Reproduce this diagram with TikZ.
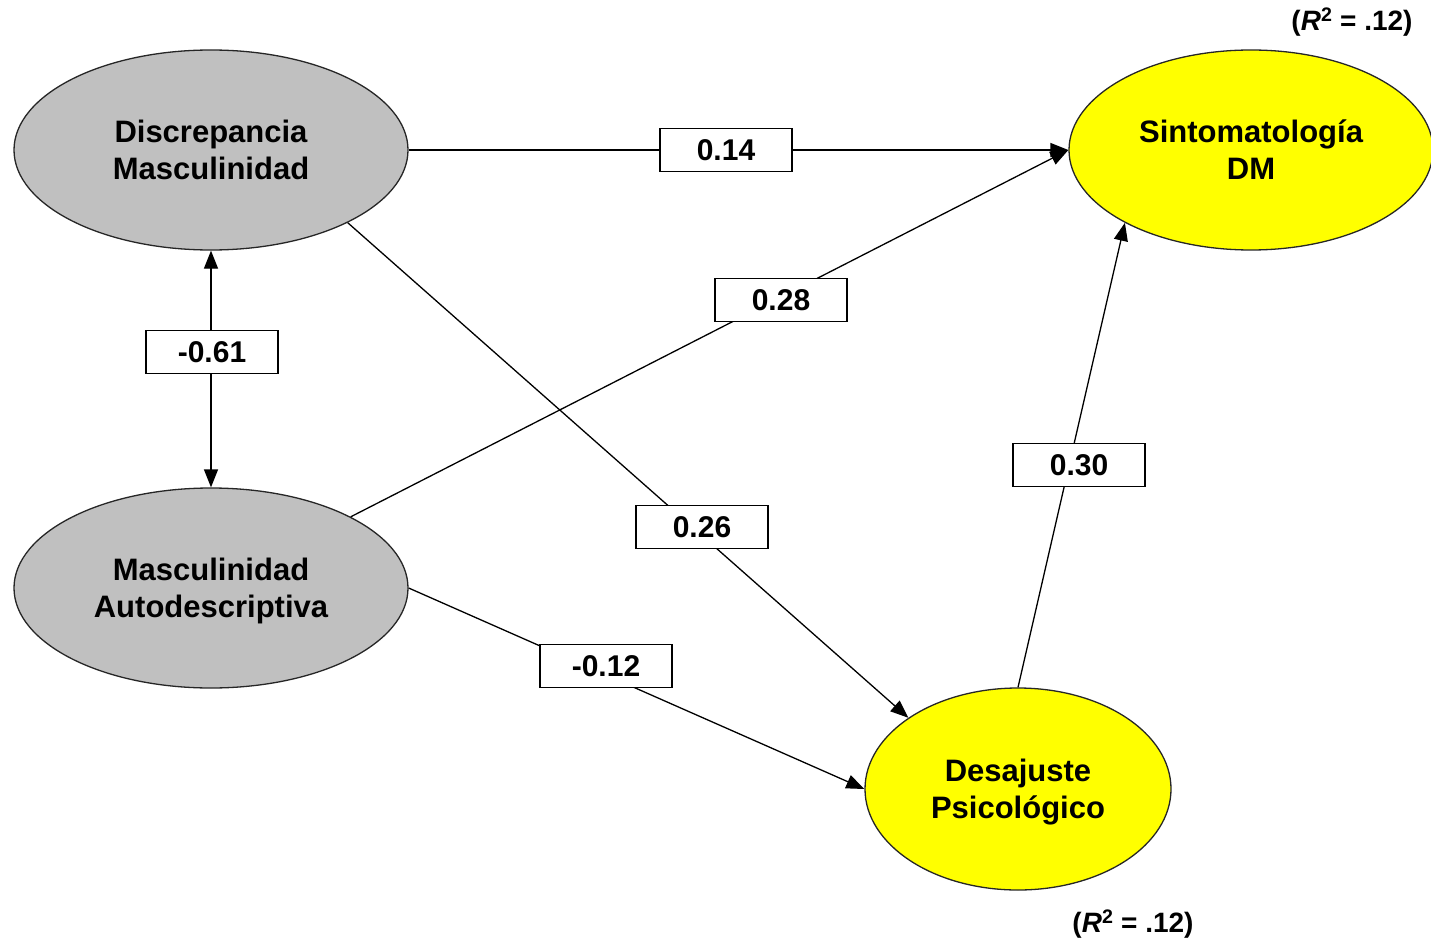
\documentclass[tikz,border=0pt]{standalone}
\usepackage{fontspec}
\setmainfont{Liberation Sans}
\usetikzlibrary{shapes.geometric,arrows.meta}
\definecolor{latgray}{RGB}{192,192,192}
\definecolor{latyellow}{RGB}{255,255,0}
\newcommand{\nodepth}[1]{\raisebox{0pt}[\height][0pt]{#1}}
\begin{document}
\begin{tikzpicture}[x=1pt,y=-1pt,
  lat/.style={ellipse, draw=black!85, line width=1.3pt, inner sep=0pt, align=center,
    font=\fontsize{31}{37}\selectfont\bfseries},
  exo/.style={lat, fill=latgray, minimum width=394pt, minimum height=200pt},
  endo/.style={lat, fill=latyellow},
  coef/.style={draw=black, fill=white, line width=1.3pt, minimum width=132pt,
    minimum height=43pt, inner sep=0pt, font=\fontsize{30}{36}\selectfont\bfseries},
  arr/.style={line width=1.3pt, -{Triangle[length=18pt,width=14pt]}},
  darr/.style={line width=1.3pt, {Triangle[length=18pt,width=14pt]}-{Triangle[length=18pt,width=14pt]}},
  rsq/.style={inner sep=0pt, font=\fontsize{28}{34}\selectfont\bfseries}
]
\useasboundingbox (0,0) rectangle (1431,944);

\node[exo] (disc) at (211,150) {Discrepancia\\Masculinidad};
\node[exo] (masc) at (211,588) {Masculinidad\\\nodepth{Autodescriptiva}};
\node[endo, minimum width=364pt, minimum height=200pt] (sint) at (1251,150) {Sintomatología\\DM};
\node[endo, minimum width=306pt, minimum height=202pt] (des) at (1018,789) {Desajuste\\\nodepth{Psicológico}};

\draw[arr] (disc) -- (sint.west);
\draw[arr] (masc.27) -- (sint.west);
\draw[arr] (disc.-28) -- (des.147);
\draw[arr] (masc.east) -- (des.west);
\draw[arr] (des.north) -- (sint.210);
\draw[darr] (disc.south) -- (masc.north);

\node[coef] (c1) at (726,150) {0.14};
\node[coef] (c2) at (781,300) {0.28};
\node[coef] (c3) at (212,352) {-0.61};
\node[coef] (c4) at (1079,465) {0.30};
\node[coef] (c5) at (702,527) {0.26};
\node[coef] (c6) at (606,666) {-0.12};

\node[rsq] (r1) at (1352,22) {(\textit{R}\textsuperscript{2} = .12)};
\node[rsq] (r2) at (1133,924) {(\textit{R}\textsuperscript{2} = .12)};
\end{tikzpicture}
\end{document}
